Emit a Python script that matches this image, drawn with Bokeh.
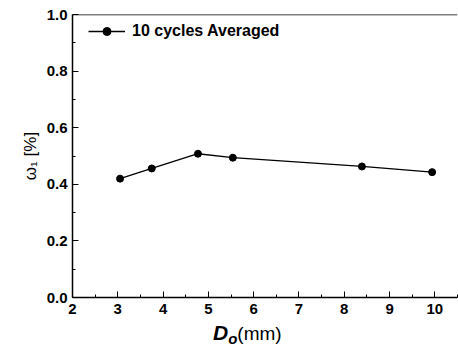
from bokeh.plotting import figure
from bokeh.layouts import column
from bokeh.models import (Range1d, Span, Legend, LegendItem, FixedTicker,
                          PrintfTickFormatter, Div)
from bokeh.embed import file_html
from bokeh.resources import INLINE

# data
d0 = [3.05, 3.75, 4.77, 5.54, 8.39, 9.94]
omega = [0.42, 0.456, 0.508, 0.494, 0.463, 0.443]
x_ticks = [2, 3, 4, 5, 6, 7, 8, 9, 10]
y_ticks = [0.0, 0.2, 0.4, 0.6, 0.8, 1.0]
series_label = "10 cycles Averaged"
y_label = "ω₁ [%]"

FONT = "Liberation Sans"

p = figure(width=458, height=320, output_backend="svg", toolbar_location=None,
           x_range=Range1d(2, 10.5), y_range=Range1d(0, 1.0),
           min_border_left=72, min_border_right=1, min_border_top=14, min_border_bottom=23)
p.outline_line_color = None
p.grid.visible = False
p.background_fill_color = "white"
p.border_fill_color = "white"

line = p.line(d0, omega, line_color="black", line_width=1.3)
dots = p.scatter(d0, omega, size=7, color="black")

for ax in (p.xaxis[0], p.yaxis[0]):
    ax.axis_line_color = "black"
    ax.axis_line_width = 1.5
    ax.major_tick_in = 6
    ax.major_tick_out = 0
    ax.minor_tick_in = 3
    ax.minor_tick_out = 0
    ax.major_tick_line_color = "black"
    ax.minor_tick_line_color = "black"
    ax.major_label_text_font = FONT
    ax.major_label_text_font_size = "15px"
    ax.major_label_text_color = "black"
    ax.major_label_text_font_style = "bold"

p.xaxis[0].ticker = FixedTicker(ticks=x_ticks, minor_ticks=[x + 0.5 for x in range(2, 11)])
p.yaxis[0].ticker = FixedTicker(ticks=y_ticks, minor_ticks=[0.1, 0.3, 0.5, 0.7, 0.9])
p.yaxis[0].formatter = PrintfTickFormatter(format="%.1f")
p.xaxis[0].major_label_standoff = 6
p.yaxis[0].major_label_standoff = 5

p.yaxis[0].axis_label = y_label
p.yaxis[0].axis_label_text_font = FONT
p.yaxis[0].axis_label_text_font_size = "17px"
p.yaxis[0].axis_label_text_font_style = "normal"
p.yaxis[0].axis_label_text_color = "black"
p.yaxis[0].axis_label_standoff = 4

p.add_layout(Span(location=1.0, dimension="width", line_color="black", line_width=1.5))

legend = Legend(items=[LegendItem(label=series_label, renderers=[line, dots])],
                location=(16, 256), background_fill_alpha=0, border_line_color=None,
                label_text_font=FONT, label_text_font_size="16px",
                label_text_font_style="bold", label_text_color="black",
                glyph_width=37, glyph_height=20, label_height=20,
                label_standoff=7, margin=0, padding=0)
p.add_layout(legend)

x_label_html = (
    '<div style="padding-left:213px;white-space:nowrap;font-family:\'Liberation Sans\';'
    'color:black;line-height:26px;">'
    '<span style="font-size:21px;font-weight:bold;font-style:italic;">D</span>'
    '<span style="font-size:15px;font-weight:bold;font-style:italic;'
    'position:relative;top:4px;">o</span>'
    '<span style="font-size:19px;">(mm)</span></div>'
)
xdiv = Div(text=x_label_html, width=458, height=31, margin=(0, 0, 0, 0))

layout = column(p, xdiv, spacing=0)
open("out.html", "w").write(file_html(layout, INLINE))
